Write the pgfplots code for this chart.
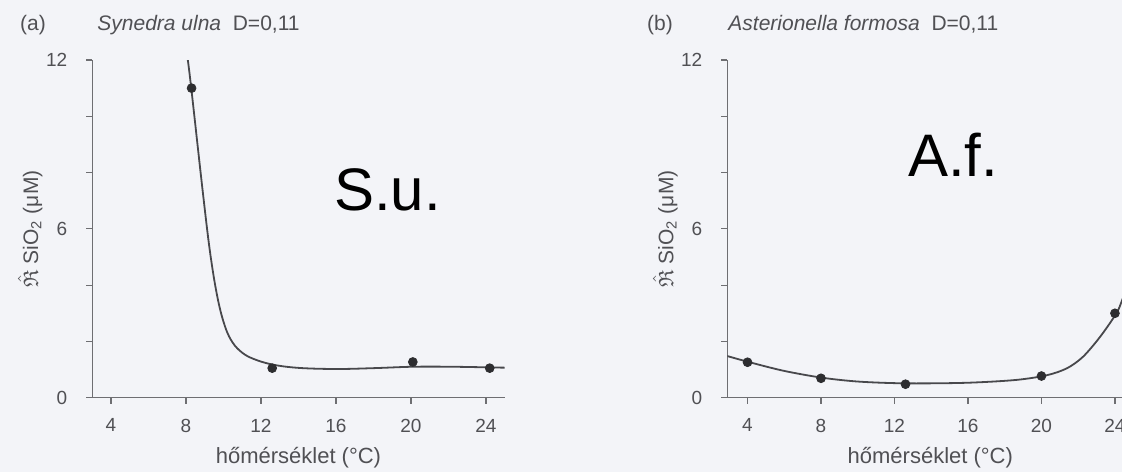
\documentclass[border=0pt]{standalone}
\usepackage{fontspec}
\setmainfont{Liberation Sans}
\usepackage{amssymb}
\usepackage{pgfplots}
\pgfplotsset{compat=1.18}

\definecolor{bgc}{RGB}{243,244,248}
\definecolor{axc}{RGB}{110,110,114}
\definecolor{txc}{RGB}{80,80,84}
\definecolor{crv}{RGB}{72,72,76}
\definecolor{dotc}{RGB}{45,45,48}

% common look of both panels
\pgfplotsset{panel/.style={
    scale only axis, height=168.85pt,
    ymin=0, ymax=12,
    axis lines=left,
    axis line style={-, draw=axc, line width=0.7pt},
    ytick={0,6,12}, minor ytick={2,4,8,10},
    xtick={4,8,...,24},
    tick align=outside,
    major tick length=3pt, minor tick length=3pt,
    every tick/.style={draw=axc, line width=0.6pt},
    tick label style={font=\fontsize{9.5}{10}\selectfont, text=txc},
    /pgf/number format/assume math mode=true,
    yticklabel style={xshift=-6pt},
    xticklabel style={yshift=-4pt},
    xlabel={hőmérséklet (°C)},
    xlabel style={font=\fontsize{11}{12}\selectfont, text=txc,
        at={([yshift=-30pt]axis description cs:0.5,0)}, anchor=center},
    ylabel={$\hat{\mathfrak{R}}$ SiO\textsubscript{2} (μM)},
    ylabel style={font=\fontsize{10.5}{11}\selectfont, text=txc,
        at={([xshift=-31pt]axis description cs:0,0.5)}, anchor=center},
}}

\begin{document}
\begin{tikzpicture}
\useasboundingbox (0,0) rectangle (561pt,236pt);
\clip (0,0) rectangle (561pt,236pt);
\fill[bgc] (0,0) rectangle (561pt,236pt);

% (a) Synedra ulna
\begin{axis}[panel, at={(46.1pt,37.15pt)}, anchor=origin,
    width=206.25pt, xmin=3, xmax=25]
\addplot[crv, line width=0.9pt, smooth, tension=0.6] coordinates {
    (8.1,12.0) (8.3,10.9) (8.9,7.3) (9.3,5.1) (9.7,3.5) (10.1,2.5)
    (10.5,1.95) (11.0,1.6) (11.6,1.38) (12.6,1.18) (14.0,1.06)
    (16.0,1.02) (18.0,1.05) (20.1,1.10) (22.2,1.10) (24.75,1.07) (25,1.07)
};
\addplot[only marks, mark=*, mark size=2.2pt, dotc] coordinates {
    (8.3,11.0) (12.6,1.05) (20.1,1.27) (24.2,1.05)
};
\end{axis}

% (b) Asterionella formosa
\begin{axis}[panel, at={(363.65pt,37.15pt)}, anchor=origin,
    width=203pt, xmin=2.9, xmax=25]
\addplot[crv, line width=0.9pt, smooth, tension=0.5] coordinates {
    (2.9,1.48) (4.0,1.28) (5.94,0.96) (8.06,0.71) (10.1,0.57) (12.64,0.51)
    (15.9,0.53) (18.6,0.63) (20.3,0.80) (21.4,1.05) (22.27,1.46)
    (23.2,2.17) (24.08,3.0) (24.4,3.48) (25,4.5)
};
\addplot[only marks, mark=*, mark size=2.2pt, dotc] coordinates {
    (4,1.26) (8,0.69) (12.6,0.48) (20,0.77) (24,3.0)
};
\end{axis}

% panel titles
\node[anchor=base, text=txc, font=\fontsize{10.5}{12}\selectfont] at (16.5pt,220.5pt) {(a)};
\node[anchor=base west, text=txc, font=\fontsize{10.5}{12}\selectfont, inner sep=0pt]
    at (48.5pt,220.5pt) {\textit{Synedra ulna}\ \ D=0,11};
\node[anchor=base, text=txc, font=\fontsize{10.5}{12}\selectfont] at (330pt,220.5pt) {(b)};
\node[anchor=base west, text=txc, font=\fontsize{10.5}{12}\selectfont, inner sep=0pt]
    at (364pt,220.5pt) {\textit{Asterionella formosa}\ \ D=0,11};

% big overlay labels
\node[anchor=base, font=\fontsize{30}{32}\selectfont] at (193.75pt,131pt) {S.u.};
\node[anchor=base, font=\fontsize{30}{32}\selectfont] at (476.5pt,148pt) {A.f.};
\end{tikzpicture}
\end{document}
